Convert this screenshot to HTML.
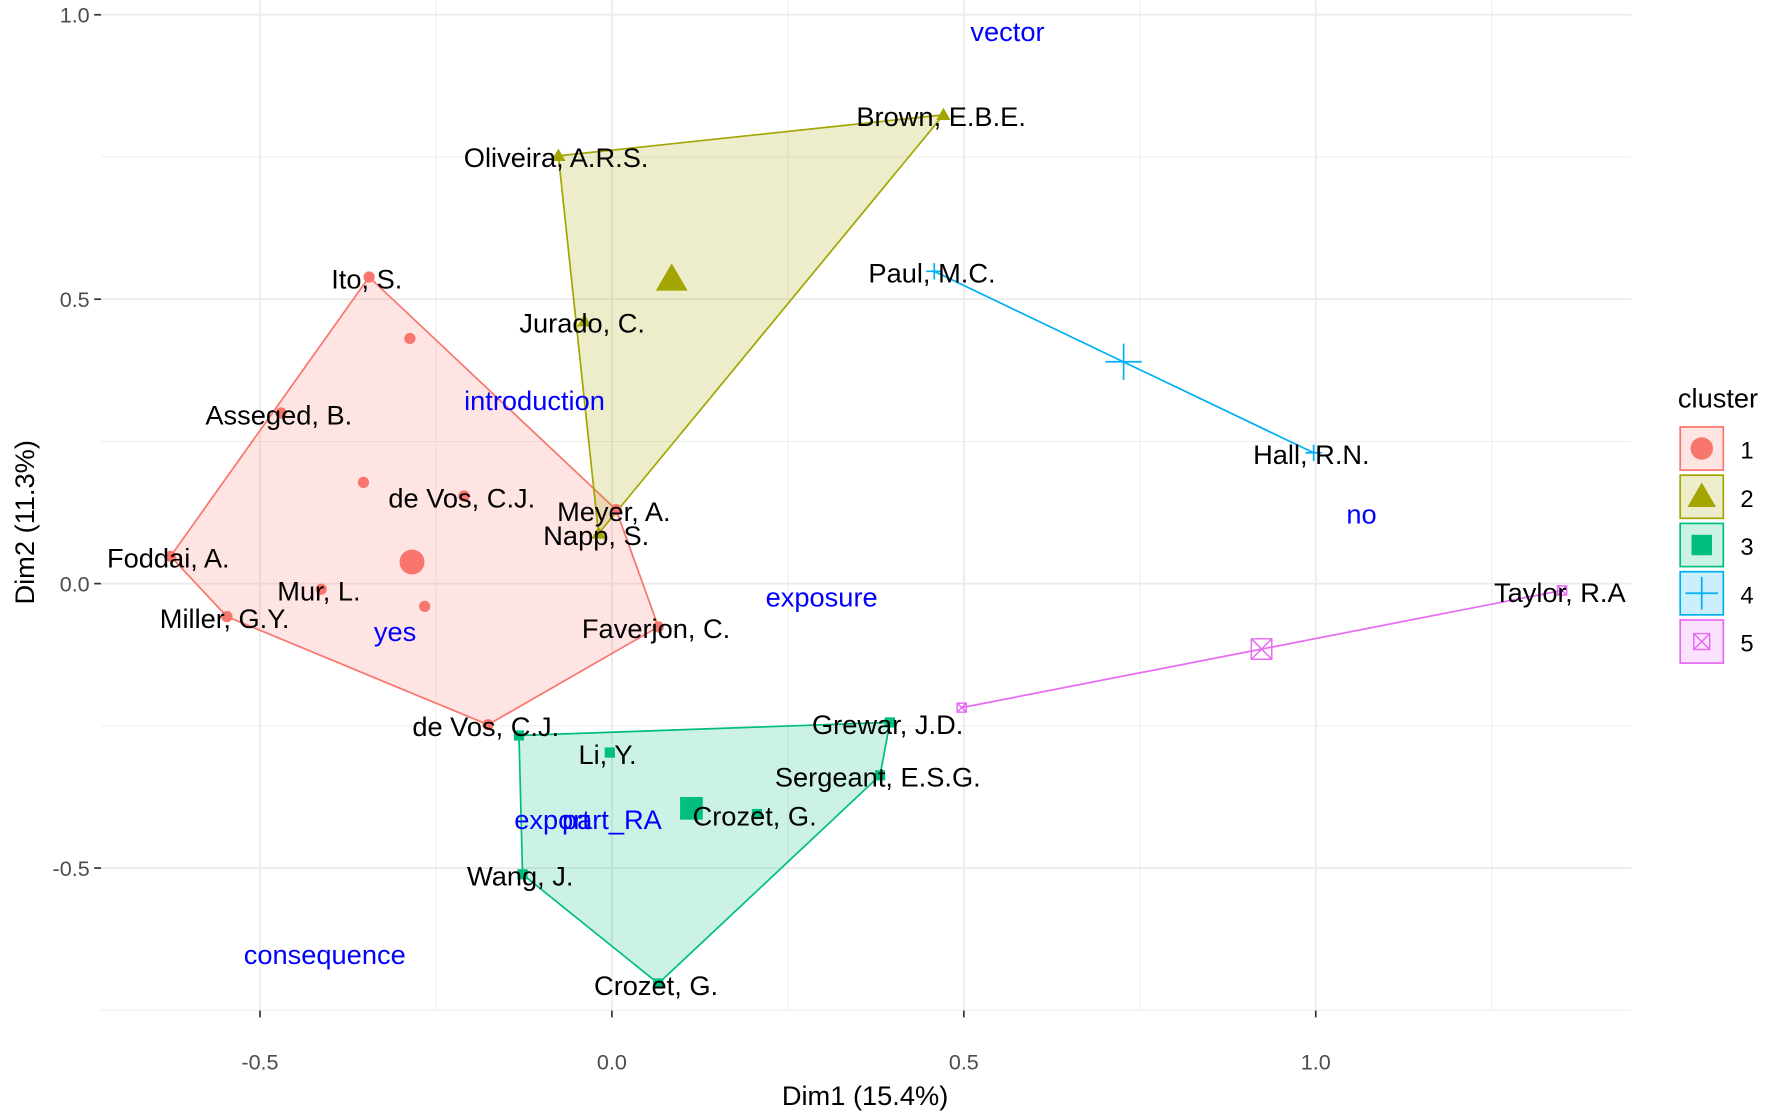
<!DOCTYPE html>
<html><head><meta charset="utf-8"><style>
html,body{margin:0;padding:0;background:#fff;}
svg{display:block;font-family:"Liberation Sans",Arial,sans-serif;}
</style></head><body>
<svg id="chart" width="1771" height="1115" viewBox="0 0 1560 982" preserveAspectRatio="none" xmlns="http://www.w3.org/2000/svg">
<g id="grid"></g><g id="hulls"></g><g id="marks"></g><g id="labels"></g><g id="axes"></g><g id="legend"></g>
</svg>
<script>
const clusterIds=[1,2,3,4,5];
const clusterColors=["#F8766D","#A3A500","#00BF7D","#00B0F6","#E76BF3"];
const centerX=[-0.284,0.085,0.113,0.727,0.923];
const centerY=[0.038,0.535,-0.395,0.39,-0.115];
const pointNames=["Ito, S.","","Asseged, B.","","de Vos, C.J.","Foddai, A.","Mur, L.","Miller, G.Y.","","Faverjon, C.","de Vos, C.J.","Meyer, A.",
"Oliveira, A.R.S.","Brown, E.B.E.","Jurado, C.","Napp, S.",
"","Grewar, J.D.","Sergeant, E.S.G.","Crozet, G.","Wang, J.","Li, Y.","Crozet, G.",
"Paul, M.C.","Hall, R.N.","","Taylor, R.A"];
const pointX=[-0.345,-0.287,-0.47,-0.353,-0.21,-0.627,-0.413,-0.547,-0.266,0.066,-0.176,0.006,
-0.076,0.471,-0.039,-0.019,
-0.132,0.395,0.381,0.066,-0.127,-0.003,0.206,
0.458,0.997,0.497,1.35];
const pointY=[0.539,0.431,0.30,0.178,0.154,0.048,-0.01,-0.058,-0.04,-0.076,-0.248,0.13,
0.752,0.824,0.461,0.088,
-0.267,-0.244,-0.337,-0.703,-0.511,-0.297,-0.405,
0.549,0.23,-0.218,-0.012];
const pointCluster=[1,1,1,1,1,1,1,1,1,1,1,1,2,2,2,2,3,3,3,3,3,3,3,4,4,5,5];
const varNames=["vector","introduction","no","exposure","yes","export","part_RA","consequence"];
const varX=[0.562,-0.11,1.065,0.298,-0.308,-0.085,0.0,-0.408];
const varY=[0.97,0.321,0.122,-0.024,-0.085,-0.415,-0.415,-0.653];
const xTicks=[-0.5,0,0.5,1.0];
const xTickLabels=["-0.5","0.0","0.5","1.0"];
const yTicks=[-0.5,0,0.5,1.0];
const yTickLabels=["-0.5","0.0","0.5","1.0"];

const NS="http://www.w3.org/2000/svg";
const X=v=>539+620*v, Y=v=>514-501*v;
function mk(tag,parent,attrs,text){const e=document.createElementNS(NS,tag);for(const k in attrs)e.setAttribute(k,attrs[k]);if(text!==undefined)e.textContent=text;document.getElementById(parent).appendChild(e);return e;}
const PL=89,PR=1437,PT=0;
for(let v=-0.75;v<=1.5;v+=0.25){const px=X(v);if(px<PL||px>PR)continue;
 const g=mk('line','grid',{x1:px,x2:px,y1:PT,y2:890,stroke:'#ebebeb','stroke-width':Math.abs(v*2-Math.round(v*2))<1e-6?1.6:0.8});
 }
for(let v=-0.75;v<=1.0;v+=0.25){const py=Y(v);
 const g=mk('line','grid',{x1:PL,x2:PR,y1:py,y2:py,stroke:'#ebebeb','stroke-width':Math.abs(v*2-Math.round(v*2))<1e-6?1.6:0.8});
 }
function hull(pts){pts=pts.slice().sort((a,b)=>a[0]-b[0]||a[1]-b[1]);if(pts.length<3)return pts;
 const cr=(o,a,b)=>(a[0]-o[0])*(b[1]-o[1])-(a[1]-o[1])*(b[0]-o[0]);const lo=[],up=[];
 for(const p of pts){while(lo.length>=2&&cr(lo[lo.length-2],lo[lo.length-1],p)<=0)lo.pop();lo.push(p);}
 for(const p of pts.slice().reverse()){while(up.length>=2&&cr(up[up.length-2],up[up.length-1],p)<=0)up.pop();up.push(p);}
 return lo.slice(0,-1).concat(up.slice(0,-1));}
function marker(parent,c,x,y,s,col){
 let e;
 if(c===1){e=mk('circle',parent,{cx:x,cy:y,r:s*0.55,fill:col});}
 else if(c===2){e=mk('polygon',parent,{points:`${x},${y-s*0.7} ${x-s*0.7},${y+s*0.5} ${x+s*0.7},${y+s*0.5}`,fill:col});}
 else if(c===3){e=mk('rect',parent,{x:x-s*0.5,y:y-s*0.5,width:s,height:s,fill:col});}
 else if(c===4){e=mk('path',parent,{d:`M${x-s*0.8},${y}H${x+s*0.8}M${x},${y-s*0.8}V${y+s*0.8}`,stroke:col,'stroke-width':1.5,fill:'none'});}
 else {e=mk('path',parent,{d:`M${x-s*0.5},${y-s*0.5}h${s}v${s}h${-s}z M${x-s*0.5},${y-s*0.5}L${x+s*0.5},${y+s*0.5}M${x+s*0.5},${y-s*0.5}L${x-s*0.5},${y+s*0.5}`,stroke:col,'stroke-width':1.3,fill:'none'});}
 return e;}
clusterIds.forEach((c,i)=>{
 const idx=pointCluster.map((k,j)=>k===c?j:-1).filter(j=>j>=0);
 const pts=idx.map(j=>[X(pointX[j]),Y(pointY[j])]);
 const h=hull(pts);
 const poly=mk('polygon','hulls',{points:h.map(p=>p.join(',')).join(' '),fill:clusterColors[i],'fill-opacity':0.2,stroke:clusterColors[i],'stroke-width':1.5});
 
 
 idx.forEach(j=>{const m=marker('marks',c,X(pointX[j]),Y(pointY[j]),c===5?8:9,clusterColors[i]);
  
  });
 const cm=marker('marks',c,X(centerX[i]),Y(centerY[i]),c===5?18:20,clusterColors[i]);
 
 
});
pointNames.forEach((n,j)=>{if(!n)return;
 const t=mk('text','labels',{x:X(pointX[j])-2,y:Y(pointY[j])+10,'text-anchor':'middle','font-size':24,fill:'#000'},n);
 
 });
varNames.forEach((n,j)=>{
 const t=mk('text','labels',{x:X(varX[j]),y:Y(varY[j])+8,'text-anchor':'middle','font-size':24,fill:'#0000ff'},n);
 
 });
xTicks.forEach((v,i)=>{
 const l=mk('line','axes',{x1:X(v),x2:X(v),y1:890,y2:896,stroke:'#333','stroke-width':1.5});
 
 
 const t=mk('text','axes',{x:X(v),y:942,'text-anchor':'middle','font-size':19,fill:'#4d4d4d'},xTickLabels[i]);
 
 });
yTicks.forEach((v,i)=>{
 const l=mk('line','axes',{x1:83,x2:89,y1:Y(v),y2:Y(v),stroke:'#333','stroke-width':1.5});
 
 
 const t=mk('text','axes',{x:79,y:Y(v)+7,'text-anchor':'end','font-size':19,fill:'#4d4d4d'},yTickLabels[i]);
 
 });
const xt=mk('text','axes',{x:762,y:973,'text-anchor':'middle','font-size':24,fill:'#000'},'Dim1 (15.4%)');

const yt=mk('text','axes',{x:30,y:460,'text-anchor':'middle','font-size':24,fill:'#000',transform:'rotate(-90 30 460)'},'Dim2 (11.3%)');

const lt=mk('text','legend',{x:1478,y:359,'font-size':24,fill:'#000'},'cluster');

clusterIds.forEach((c,i)=>{const y0=376+i*42.5;
 const r=mk('rect','legend',{x:1480,y:y0,width:38,height:38,fill:clusterColors[i],'fill-opacity':0.2,stroke:clusterColors[i],'stroke-width':1.5});
 
 const m=marker('legend',c,1499,y0+19,c===5?14:18,clusterColors[i]);
 
 const t=mk('text','legend',{x:1533,y:y0+28,'font-size':21,fill:'#000'},String(c));
 });
</script>
</body></html>
